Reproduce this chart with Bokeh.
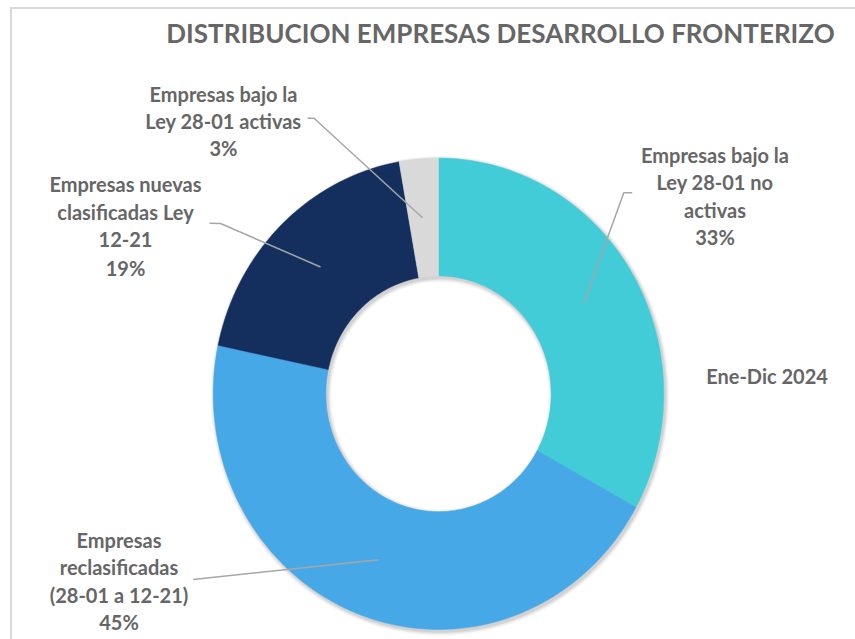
import numpy as np
from bokeh.plotting import figure
from bokeh.models import Range1d
from bokeh.core.properties import value
from bokeh.embed import file_html
from bokeh.resources import INLINE

# ---- data ----
categories = [
    "Empresas bajo la\nLey 28-01 no\nactivas",
    "Empresas\nreclasificadas\n(28-01 a 12-21)",
    "Empresas nuevas\nclasificadas Ley\n12-21",
    "Empresas bajo la\nLey 28-01 activas",
]
shares = [33.0, 45.3, 18.9, 2.8]
colors = ["#41CCD8", "#47A8E7", "#142F5E", "#D9D9D9"]
title_text = "DISTRIBUCION EMPRESAS DESARROLLO FRONTERIZO"
period_text = "Ene-Dic 2024"

# ---- layout (picture pixels) ----
W, H = 855, 639
CX, CY = 438.0, 393.3       # donut centre (px)
RX, RY = 225.3, 235.7       # px per data unit (outer radius = 1)
HOLE = 0.5
FONT = "Lato"
TXT = "#666666"

p = figure(width=W, height=H, output_backend="svg", toolbar_location=None,
           x_range=Range1d(-CX / RX, (W - CX) / RX),
           y_range=Range1d(-(H - CY) / RY, CY / RY),
           min_border=0)
p.axis.visible = False
p.grid.visible = False
p.outline_line_color = None
p.background_fill_color = "white"
p.border_fill_color = "white"


def X(px):
    return (px - CX) / RX


def Y(py):
    return (CY - py) / RY


# chart border (top / left visible)
p.line([X(10.5), X(10.5)], [Y(7.5), Y(900)], line_color="#D9D9D9", line_width=2)
p.line([X(9.5), X(1200)], [Y(7.5), Y(7.5)], line_color="#D9D9D9", line_width=2)

# ---- slices ----
tot = float(sum(shares))
cum = np.concatenate([[0.0], np.cumsum(shares) / tot])


def ring(f0, f1, r_out, r_in, dx=0.0, dy=0.0, n=200):
    th = np.pi / 2 - 2 * np.pi * np.linspace(f0, f1, max(int(n * (f1 - f0)) + 2, 3))
    xo = r_out * np.cos(th)
    yo = r_out * np.sin(th)
    xi = r_in * np.cos(th[::-1])
    yi = r_in * np.sin(th[::-1])
    return list(np.concatenate([xo, xi]) + dx), list(np.concatenate([yo, yi]) + dy)


# soft shadow
for k, a in [(4, 0.03), (3, 0.04), (2, 0.05), (1, 0.06)]:
    xs, ys = ring(0.0, 1.0, 1 + k / RX, HOLE - k / RX, dx=1.5 / RX, dy=-2.0 / RY)
    p.patch(xs, ys, fill_color="black", fill_alpha=a, line_color=None)

xs_all, ys_all = [], []
for i in range(len(shares)):
    xs, ys = ring(cum[i], cum[i + 1], 1.0, HOLE)
    xs_all.append(xs)
    ys_all.append(ys)
p.patches(xs_all, ys_all, fill_color=colors, line_color=colors, line_width=0.5)

# ---- leader lines (px) ----
leaders = [
    [(631.7, 192.3), (623.3, 192.3), (583.3, 302.7)],
    [(192.7, 579.0), (378.5, 559.3)],
    [(209.0, 222.7), (220.0, 223.0), (320.0, 266.5)],
    [(307.0, 117.7), (313.5, 117.7), (422.0, 217.3)],
]
for pts in leaders:
    p.line([X(a) for a, _ in pts], [Y(b) for _, b in pts], line_color="#A6A6A6", line_width=1.5)

# ---- labels ----
anchors = [(714.5, 154.0, 27.5), (118.5, 539.0, 27.5), (125.0, 183.0, 28.0), (223.0, 93.0, 27.0)]
lx, ly, lt = [], [], []
for i, cat in enumerate(categories):
    lines = cat.split("\n") + [f"{round(shares[i] / tot * 100)}%"]
    ax, ay, step = anchors[i]
    for j, s in enumerate(lines):
        lx.append(X(ax))
        ly.append(Y(ay + j * step))
        lt.append(s)
p.text(lx, ly, text=lt, text_font=value(FONT), text_font_style="bold", text_font_size="20px",
       text_color=TXT, text_align="center", text_baseline="middle")

p.text([X(766.5)], [Y(375.0)], text=[period_text], text_font=value(FONT), text_font_style="bold",
       text_font_size="20px", text_color=TXT, text_align="center", text_baseline="middle")

p.text([X(500.0)], [Y(32.7)], text=[title_text], text_font=value(FONT), text_font_style="bold",
       text_font_size="26px", text_color=TXT, text_align="center", text_baseline="middle")

open("out.html", "w").write(file_html(p, INLINE))
